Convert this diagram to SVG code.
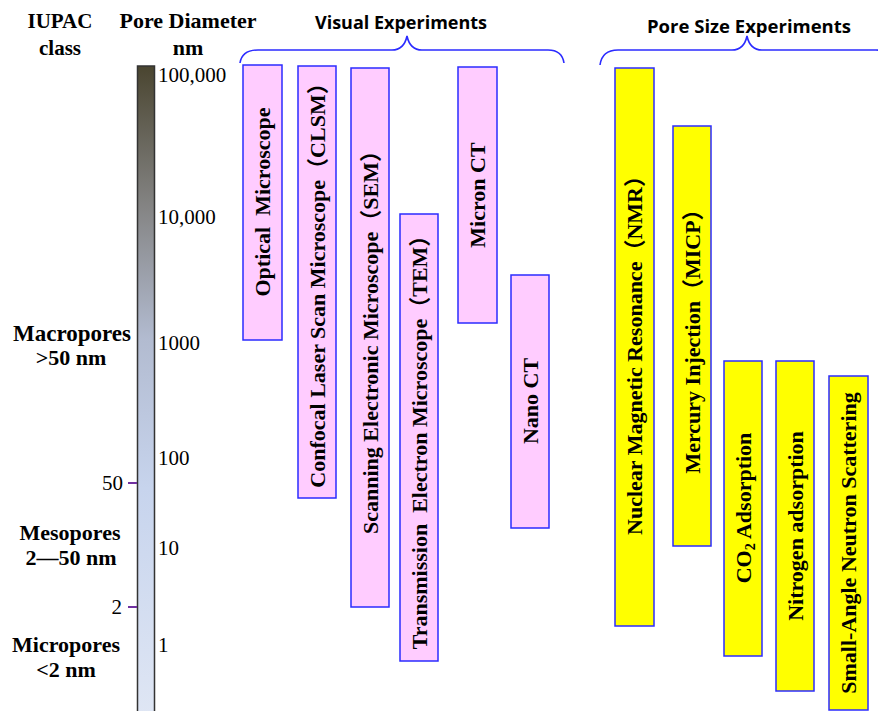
<svg xmlns="http://www.w3.org/2000/svg" width="878" height="711" viewBox="0 0 878 711">
<style>
.hdr{font-family:"Liberation Serif","Times New Roman",serif;font-weight:bold;font-size:21px;fill:#000;text-anchor:middle}
.cls{font-family:"Liberation Serif","Times New Roman",serif;font-weight:bold;font-size:22px;fill:#000;text-anchor:middle}
.scl{font-family:"Liberation Serif","Times New Roman",serif;font-size:21px;fill:#000}
.grp{font-family:"Open Sans","Liberation Sans",sans-serif;font-weight:bold;font-size:18px;fill:#000;text-anchor:middle}
.lbl{font-family:"Liberation Serif","Times New Roman","Noto Sans CJK SC",serif;font-weight:bold;font-size:22px;fill:#000;text-anchor:middle}
.vis{fill:#ffccff;stroke:#2b2bff;stroke-width:1.5}
.pore{fill:#ffff00;stroke:#2b2bff;stroke-width:1.5}
.brace{fill:none;stroke:#2b2bff;stroke-width:1.6}
.tick{stroke:#7030a0;stroke-width:2}
</style>
<defs>
<linearGradient id="bar" x1="0" y1="0" x2="0" y2="1">
<stop offset="0" stop-color="#4a4530"/>
<stop offset="0.22" stop-color="#858585"/>
<stop offset="0.42" stop-color="#b2bbd0"/>
<stop offset="0.65" stop-color="#c7d4ed"/>
<stop offset="1" stop-color="#dfe6f4"/>
</linearGradient>
</defs>
<rect width="878" height="711" fill="#fff"/>
<g id="headers">
<text class="hdr" x="60" y="28">IUPAC</text>
<text class="hdr" x="60" y="55">class</text>
<text class="hdr" x="188" y="28" style="font-size:22px">Pore Diameter</text>
<text class="hdr" x="188" y="55" style="font-size:22px">nm</text>
<text class="grp" x="401" y="29">Visual Experiments</text>
<text class="grp" x="749" y="33" style="font-size:18.5px">Pore Size Experiments</text>
</g>
<g id="scale">
<rect x="137.5" y="66" width="17" height="650" fill="url(#bar)" stroke="#333" stroke-width="1.5"/>
<line class="tick" x1="128" y1="483" x2="137" y2="483"/>
<line class="tick" x1="128" y1="607" x2="137" y2="607"/>
<text class="scl" x="123" y="490" text-anchor="end">50</text>
<text class="scl" x="122" y="614" text-anchor="end">2</text>
<text class="scl" x="158" y="82">100,000</text>
<text class="scl" x="158" y="224">10,000</text>
<text class="scl" x="158" y="350">1000</text>
<text class="scl" x="158" y="465">100</text>
<text class="scl" x="158" y="555">10</text>
<text class="scl" x="158" y="652">1</text>
</g>
<g id="iupac">
<text class="cls" x="72" y="341" style="font-size:23px">Macropores</text>
<text class="cls" x="71" y="365">&gt;50 nm</text>
<text class="cls" x="70" y="540">Mesopores</text>
<text class="cls" x="71" y="565">2—50 nm</text>
<text class="cls" x="66" y="652">Micropores</text>
<text class="cls" x="66" y="677">&lt;2 nm</text>
</g>
<g id="connectors">
<path class="brace" d="M240,63 Q242,50 258,50 L392,50 Q404,50 407,36 Q410,50 422,50 L548,50 Q562,50 564,63"/>
<path class="brace" d="M600,65 Q602,50 618,50 L732,50 Q744,50 747,36 Q750,50 762,50 L876,50 Q890,50 894,65"/>
</g>
<g id="optical">
<rect class="vis" x="243" y="65" width="39" height="275"/>
<text class="lbl" transform="translate(270,202) rotate(-90)" xml:space="preserve">Optical  Microscope</text>
</g>
<g id="clsm">
<rect class="vis" x="298" y="66" width="38" height="432"/>
<text class="lbl" transform="translate(325,280) rotate(-90)">Confocal Laser Scan Microscope（CLSM）</text>
</g>
<g id="sem">
<rect class="vis" x="351" y="68" width="38" height="539"/>
<text class="lbl" transform="translate(378,337) rotate(-90)">Scanning Electronic Microscope（SEM）</text>
</g>
<g id="tem">
<rect class="vis" x="400" y="214" width="38" height="447"/>
<text class="lbl" transform="translate(427,437) rotate(-90)" xml:space="preserve">Transmission  Electron Microscope（TEM）</text>
</g>
<g id="micronct">
<rect class="vis" x="458" y="67" width="39" height="256"/>
<text class="lbl" transform="translate(485,195) rotate(-90)">Micron CT</text>
</g>
<g id="nanoct">
<rect class="vis" x="511" y="275" width="38" height="253"/>
<text class="lbl" transform="translate(538,401) rotate(-90)">Nano CT</text>
</g>
<g id="nmr">
<rect class="pore" x="615" y="68" width="39" height="558"/>
<text class="lbl" transform="translate(642,350) rotate(-90)">Nuclear Magnetic Resonance（NMR）</text>
</g>
<g id="micp">
<rect class="pore" x="673" y="126" width="38" height="420"/>
<text class="lbl" transform="translate(700,336) rotate(-90)">Mercury Injection（MICP）</text>
</g>
<g id="co2">
<rect class="pore" x="724" y="361" width="38" height="295"/>
<text class="lbl" transform="translate(751,508) rotate(-90)">CO<tspan font-size="14" dy="4">2</tspan><tspan dy="-4"> Adsorption</tspan></text>
</g>
<g id="nitrogen">
<rect class="pore" x="776" y="361" width="38" height="330"/>
<text class="lbl" transform="translate(803,526) rotate(-90)">Nitrogen adsorption</text>
</g>
<g id="sans">
<rect class="pore" x="829" y="376" width="39" height="334"/>
<text class="lbl" transform="translate(856,543) rotate(-90)">Small-Angle Neutron Scattering</text>
</g>
</svg>
